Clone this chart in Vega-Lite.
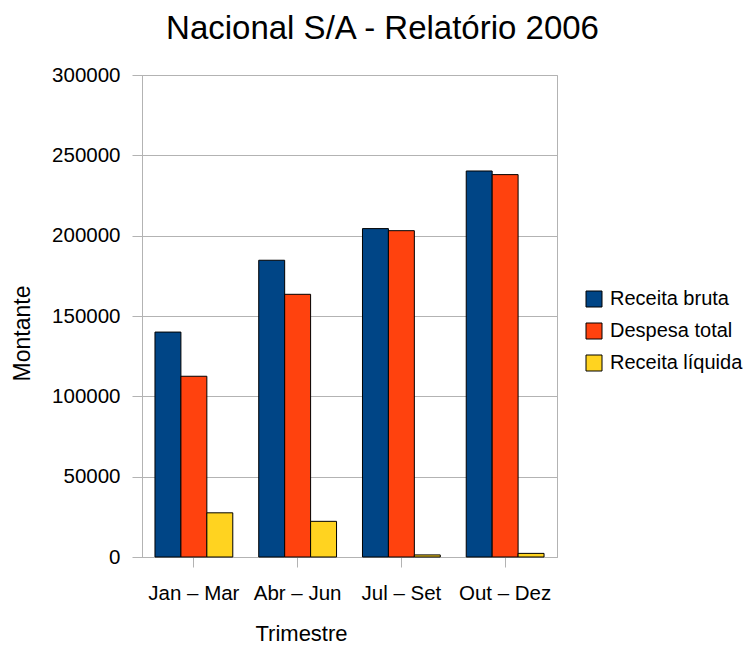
{
  "$schema": "https://vega.github.io/schema/vega-lite/v6.json",
  "width": 415,
  "height": 482,
  "autosize": {"type": "none"},
  "padding": {"left": 142, "top": 75, "right": 190, "bottom": 88},
  "background": "white",
  "config": {
    "font": "Liberation Sans",
    "view": {"stroke": "#b3b3b3", "strokeWidth": 1},
    "axis": {
      "gridColor": "#b3b3b3",
      "domainColor": "#b3b3b3",
      "tickColor": "#b3b3b3",
      "labelColor": "#000000",
      "titleColor": "#000000",
      "labelFont": "Liberation Sans",
      "titleFont": "Liberation Sans",
      "labelFontSize": 20.5,
      "titleFontSize": 22,
      "titleFontWeight": "normal",
      "tickSize": 10
    }
  },
  "title": {
    "text": "Nacional S/A - Relatório 2006",
    "fontSize": 33,
    "font": "Liberation Sans",
    "fontWeight": "normal",
    "color": "#000000",
    "anchor": "middle",
    "frame": "group",
    "dx": 33,
    "offset": 19
  },
  "data": {
    "values": [
      {"trimestre": "Jan – Mar", "serie": "Receita bruta", "valor": 140000},
      {"trimestre": "Jan – Mar", "serie": "Despesa total", "valor": 112500},
      {"trimestre": "Jan – Mar", "serie": "Receita líquida", "valor": 27500},
      {"trimestre": "Abr – Jun", "serie": "Receita bruta", "valor": 184700},
      {"trimestre": "Abr – Jun", "serie": "Despesa total", "valor": 163500},
      {"trimestre": "Abr – Jun", "serie": "Receita líquida", "valor": 22200},
      {"trimestre": "Jul – Set", "serie": "Receita bruta", "valor": 204400},
      {"trimestre": "Jul – Set", "serie": "Despesa total", "valor": 203100},
      {"trimestre": "Jul – Set", "serie": "Receita líquida", "valor": 1300},
      {"trimestre": "Out – Dez", "serie": "Receita bruta", "valor": 240250},
      {"trimestre": "Out – Dez", "serie": "Despesa total", "valor": 238000},
      {"trimestre": "Out – Dez", "serie": "Receita líquida", "valor": 2250}
    ]
  },
  "mark": {"type": "bar", "stroke": "#000000", "strokeWidth": 1},
  "encoding": {
    "x": {
      "field": "trimestre",
      "type": "nominal",
      "sort": ["Jan – Mar", "Abr – Jun", "Jul – Set", "Out – Dez"],
      "scale": {"paddingInner": 0.25, "paddingOuter": 0.125},
      "axis": {
        "title": "Trimestre",
        "labelAngle": 0,
        "labelPadding": 16,
        "grid": false,
        "titleX": 159,
        "titleY": 76,
        "titleAlign": "center",
        "titleBaseline": "middle"
      }
    },
    "xOffset": {
      "field": "serie",
      "type": "nominal",
      "sort": ["Receita bruta", "Despesa total", "Receita líquida"]
    },
    "y": {
      "field": "valor",
      "type": "quantitative",
      "scale": {"domain": [0, 300000], "nice": false},
      "axis": {
        "title": "Montante",
        "values": [0, 50000, 100000, 150000, 200000, 250000, 300000],
        "format": "d",
        "labelPadding": 12,
        "titleX": -120,
        "titleY": 258,
        "titleAngle": 270,
        "titleAlign": "center",
        "titleBaseline": "middle",
        "titleFontSize": 23
      }
    },
    "color": {
      "field": "serie",
      "type": "nominal",
      "sort": ["Receita bruta", "Despesa total", "Receita líquida"],
      "scale": {
        "domain": ["Receita bruta", "Despesa total", "Receita líquida"],
        "range": ["#004586", "#ff420e", "#ffd320"]
      },
      "legend": {
        "title": null,
        "orient": "none",
        "legendX": 442,
        "legendY": 214,
        "padding": 0,
        "symbolType": "square",
        "symbolSize": 256,
        "symbolStrokeColor": "#000000",
        "symbolStrokeWidth": 1,
        "symbolOpacity": 1,
        "labelFontSize": 20,
        "labelFont": "Liberation Sans",
        "labelColor": "#000000",
        "labelOffset": 6,
        "labelLimit": 200,
        "rowPadding": 12
      }
    }
  }
}
